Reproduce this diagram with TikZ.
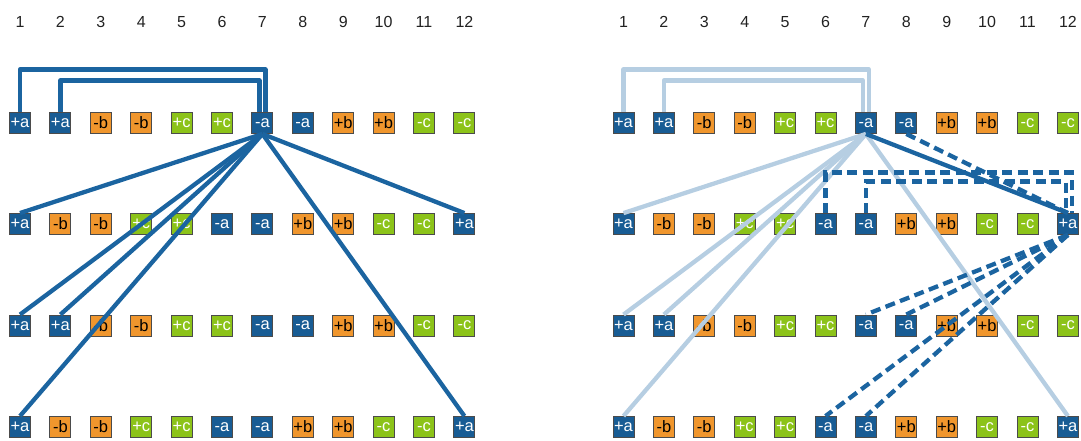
\documentclass[tikz,border=0pt]{standalone}
\usepackage{fontspec}
\setmainfont{Liberation Sans}
\definecolor{cblue}{RGB}{24,92,148}
\definecolor{corange}{RGB}{240,150,45}
\definecolor{cgreen}{RGB}{140,195,25}
\definecolor{bordergray}{RGB}{75,75,75}
\definecolor{linedark}{RGB}{27,100,160}
\definecolor{linelight}{RGB}{182,206,226}
\definecolor{numgray}{RGB}{34,34,34}
\begin{document}
\begin{tikzpicture}[x=1pt,y=-1pt,
  box/.style={draw=bordergray, line width=0.9pt, minimum size=21pt, inner sep=0pt,
    font=\fontsize{16.5}{16.5}\selectfont},
  tA/.style={box, fill=cblue, text=white},
  tB/.style={box, fill=corange, text=black},
  tC/.style={box, fill=cgreen, text=white},
  num/.style={font=\fontsize{16}{16}\selectfont, text=numgray, inner sep=0pt},
  dk/.style={draw=linedark, line width=4.3pt, line join=round},
  lt/.style={draw=linelight, line width=4.3pt, line join=round},
  dsh/.style={draw=linedark, line width=4.3pt, dash pattern=on 10pt off 5.5pt}
]
\useasboundingbox (0,0) rectangle (1081,440);
\foreach \p/\xo in {L/20, R/623.5} {
  \foreach \c in {1,...,12}
    \node[num] (\p-n-\c) at ({\xo+40.4*(\c-1)}, 22) {\c};
  \foreach \r/\yy in {1/123, 3/325.5} {
    \foreach \lab/\s [count=\c] in {+a/tA,+a/tA,-b/tB,-b/tB,+c/tC,+c/tC,-a/tA,-a/tA,+b/tB,+b/tB,-c/tC,-c/tC}
      \node[\s] (\p-\r-\c) at ({\xo+40.4*(\c-1)}, \yy) {\lab};
  }
  \foreach \r/\yy in {2/224, 4/427} {
    \foreach \lab/\s [count=\c] in {+a/tA,-b/tB,-b/tB,+c/tC,+c/tC,-a/tA,-a/tA,+b/tB,+b/tB,-c/tC,-c/tC,+a/tA}
      \node[\s] (\p-\r-\c) at ({\xo+40.4*(\c-1)}, \yy) {\lab};
  }
}
% left panel
\draw[dk] (L-1-1.north) -- ++(0,-42.5) -| ([xshift=3pt]L-1-7.north);
\draw[dk] (L-1-2.north) -- ++(0,-31.5) -| ([xshift=-3pt]L-1-7.north);
\foreach \t in {2-1,2-12,3-1,3-2,4-1,4-12}
  \draw[dk] (L-1-7.south) -- (L-\t.north);
% right panel
\draw[lt] (R-1-1.north) -- ++(0,-42.5) -| ([xshift=3pt]R-1-7.north);
\draw[lt] (R-1-2.north) -- ++(0,-31.5) -| ([xshift=-3pt]R-1-7.north);
\foreach \t in {2-1,3-1,3-2,4-1,4-12}
  \draw[lt] (R-1-7.south) -- (R-\t.north);
\draw[dk] (R-1-7.south) -- (R-2-12.north);
\draw[dsh] (R-1-8.south) -- (R-2-12.north);
\draw[dsh] (R-2-6.north) -- ++(0,-40.5) -| ([xshift=4pt]R-2-12.north);
\draw[dsh] (R-2-7.north) -- ++(0,-31.5) -| ([xshift=-2pt]R-2-12.north);
\foreach \t in {3-7,3-8,4-6,4-7}
  \draw[dsh] (R-2-12.south) -- (R-\t.north);
\end{tikzpicture}
\end{document}
